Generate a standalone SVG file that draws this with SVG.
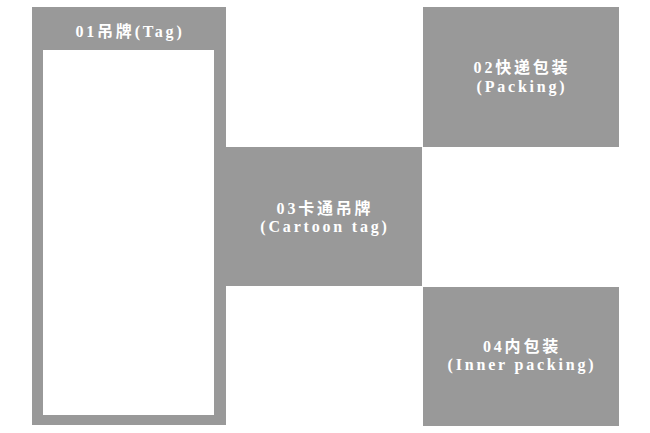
<svg xmlns="http://www.w3.org/2000/svg" width="650" height="433" viewBox="0 0 650 433">
<style>
.box{fill:#999999}
.inner{fill:#ffffff}
.t{font-family:"Liberation Serif","Noto Sans CJK SC",serif;font-weight:bold;font-size:16px;fill:#ffffff;text-anchor:middle;letter-spacing:2.8px}
</style>
<rect width="650" height="433" fill="#ffffff"/>
<g id="node-tag">
<rect class="box" x="32" y="7" width="194" height="418"/>
<rect class="inner" x="43" y="50" width="171" height="365"/>
<text class="t" x="130" y="37">01吊牌(Tag)</text>
</g>
<g id="node-packing">
<rect class="box" x="423" y="7" width="196" height="140"/>
<text class="t" x="522" y="73">02快递包装</text>
<text class="t" x="522" y="92">(Packing)</text>
</g>
<g id="node-cartoon">
<rect class="box" x="225" y="147" width="197" height="139"/>
<text class="t" x="325" y="214">03卡通吊牌</text>
<text class="t" x="325" y="232">(Cartoon tag)</text>
</g>
<g id="node-inner">
<rect class="box" x="423" y="287" width="196" height="139"/>
<text class="t" x="522" y="352">04内包装</text>
<text class="t" x="522" y="370">(Inner packing)</text>
</g>
<g id="connectors"></g>
</svg>
